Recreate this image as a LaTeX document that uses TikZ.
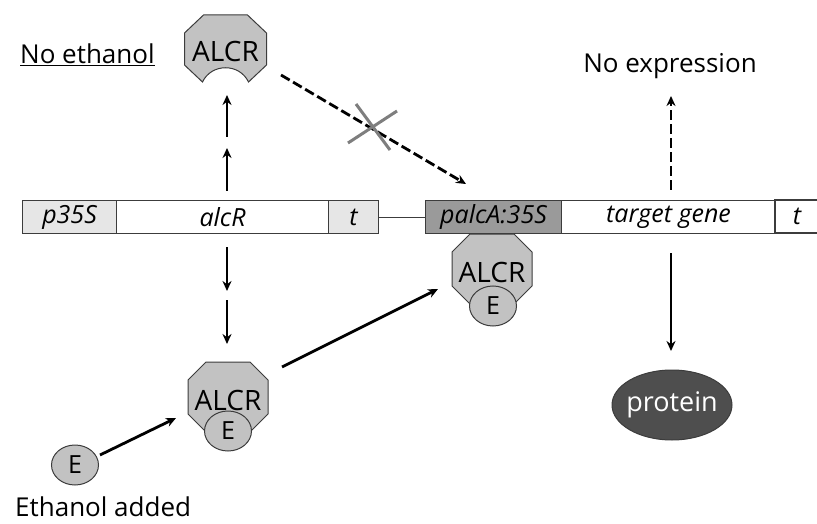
\documentclass[tikz,border=0pt]{standalone}
\usepackage{fontspec}
\setmainfont{Open Sans}
\usetikzlibrary{arrows.meta,shapes.geometric}
\definecolor{lightcell}{HTML}{E6E6E6}
\definecolor{darkcell}{HTML}{9A9A9A}
\definecolor{protfill}{HTML}{4E4E4E}
\definecolor{molfill}{HTML}{C2C2C2}
\definecolor{edge}{HTML}{3C3C3C}
\definecolor{crossgray}{HTML}{7E7E7E}
\begin{document}
\begin{tikzpicture}[x=1pt,y=-1pt,
  cell/.style={draw=edge,line width=1.1pt,minimum height=33,inner sep=0pt,anchor=north west,font=\fontsize{25}{25}\selectfont\itshape},
  arr/.style={line width=2.8pt,-{Stealth[length=10pt,width=9pt]}},
  darr/.style={arr,dash pattern=on 10pt off 4pt},
  mol/.style={fill=molfill,draw=edge,line width=1pt},
  moltext/.style={font=\fontsize{28}{28}\selectfont,inner sep=0pt},
  etext/.style={ellipse,fill=molfill,draw=edge,line width=1pt,minimum width=47,minimum height=40,inner sep=0pt,font=\fontsize{25}{25}\selectfont},
  lab/.style={font=\fontsize{26}{26}\selectfont,inner sep=0pt},
  octo/.pic={\path[mol] (-22,0) -- (22,0) -- (40,18) -- (40,52) -- (22,70) -- (-22,70) -- (-40,52) -- (-40,18) -- cycle;},
  octocave/.pic={\path[mol] (-22,0) -- (22,0) -- (41,18) -- (41,50) -- (23,67) .. controls (14,48) and (-14,48) .. (-23,67) -- (-41,50) -- (-41,18) -- cycle;}
]
\useasboundingbox (0,0) rectangle (817,524);

% gene bar 1
\node[cell,fill=lightcell,minimum width=94] (p35s) at (22,200) {p35S};
\node[cell,fill=white,minimum width=212] (alcr) at (116,200) {alcR};
\node[cell,fill=lightcell,minimum width=50] (t1) at (328,200) {t};
% gene bar 2
\node[cell,fill=darkcell,minimum width=136] (palca) at (425,200) {palcA:35S};
\node[cell,fill=white,minimum width=214] (target) at (561,200) {target gene};
\path[fill=white] (775,200) rectangle (817,233);
\draw[edge,line width=1.1pt] (817,200) -- (775,200) -- (775,233) -- (817,233);
\node[inner sep=0pt,font=\fontsize{25}{25}\selectfont\itshape] (t2) at (797,216) {t};
\draw[edge,line width=1.1pt] (t1.east) -- (palca.west);

% top ALCR (no ethanol)
\pic at (225.5,15) {octocave};
\node[moltext] (alcrtop) at (225.5,52) {ALCR};
\node[lab,anchor=west] (noeth) at (20,55) {\underline{No ethanol}};

% ALCR bound to promoter
\pic at (492,234) {octo};
\node[moltext] (alcrmid) at (492,272) {ALCR};
\node[etext] (emid) at (493,306) {E};

% ALCR with ethanol
\pic at (228,362) {octo};
\node[moltext] (alcrlow) at (228,400) {ALCR};
\node[etext] (elow) at (228,431) {E};

% free ethanol
\node[etext] (efree) at (75,465) {E};
\node[lab,anchor=west] (ethadd) at (15,507) {Ethanol added};

% protein
\node[ellipse,fill=protfill,draw=edge,line width=1pt,minimum width=120,minimum height=70,inner sep=0pt] (protein) at (672,405) {};
\node[inner sep=0pt,text=white,font=\fontsize{27}{27}\selectfont] (proteintext) at (protein.center) {protein};
\node[lab] (noexp) at (670,66) {No expression};

% arrows alcR up
\coordinate (u1s) at (227,191);
\coordinate (u1e) at (227,148);
\coordinate (u2s) at (227,137);
\coordinate (u2e) at (227,95);
\draw[arr] (u1s) -- (u1e);
\draw[arr] (u2s) -- (u2e);
% arrows alcR down
\coordinate (d1s) at (227,247);
\coordinate (d1e) at (227,291);
\coordinate (d2s) at (227,300);
\coordinate (d2e) at (227,344);
\draw[arr] (d1s) -- (d1e);
\draw[arr] (d2s) -- (d2e);

% E to ALCR
\coordinate (ef1) at (100,455);
\coordinate (ef2) at (176,418);
\draw[arr] (ef1) -- (ef2);
% ALCR-E to promoter
\coordinate (ae1) at (282,367);
\coordinate (ae2) at (438,289);
\draw[arr] (ae1) -- (ae2);

% dashed blocked arrow
\coordinate (da1) at (281,75);
\coordinate (da2) at (466,184);
\draw[darr] (da1) -- (da2);
\coordinate (x1a) at (348,143);
\coordinate (x1b) at (397,111);
\coordinate (x2a) at (356,104);
\coordinate (x2b) at (390,150);
\draw[crossgray,line width=3pt] (x1a) -- (x1b);
\draw[crossgray,line width=3pt] (x2a) -- (x2b);

% no expression dashed arrow
\coordinate (ne1) at (671,190);
\coordinate (ne2) at (671,96);
\draw[darr] (ne1) -- (ne2);
% expression arrow
\coordinate (pe1) at (671,253);
\coordinate (pe2) at (671,351);
\draw[arr] (pe1) -- (pe2);
\end{tikzpicture}
\end{document}
